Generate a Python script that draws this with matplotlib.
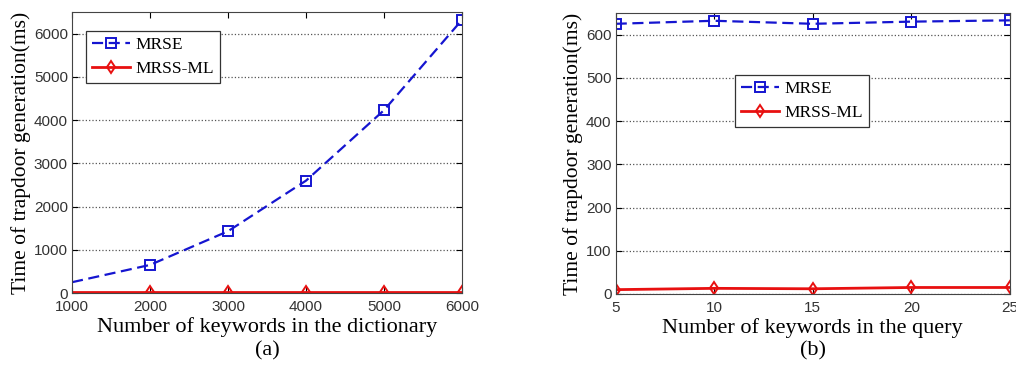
import matplotlib.pyplot as plt

# (a) dictionary size
dict_sizes = [1000, 2000, 3000, 4000, 5000, 6000]
mrse_dict = [250, 650, 1430, 2600, 4230, 6320]
mrssml_dict = [20, 20, 20, 20, 20, 20]

# (b) keywords in the query
query_sizes = [5, 10, 15, 20, 25]
mrse_query = [625, 632, 625, 630, 633]
mrssml_query = [10, 13, 12, 15, 15]

serif = 'Liberation Serif'
sans = 'Liberation Sans'

fig = plt.figure(figsize=(10.16, 3.67), dpi=100)
ax1 = fig.add_axes([0.0709, 0.2016, 0.3838, 0.7654])
ax2 = fig.add_axes([0.606, 0.199, 0.388, 0.7656])

def style(ax):
    ax.grid(axis='y', linestyle=':', color='#555555', linewidth=0.9)
    ax.tick_params(direction='in', top=True, right=True, labelsize=11, length=4, pad=3)
    ax.tick_params(axis='x', pad=5)
    for lab in ax.get_xticklabels() + ax.get_yticklabels():
        lab.set_fontfamily(sans)
        lab.set_color('#333333')
    for s in ax.spines.values():
        s.set_color('#444444')

leg_kw = dict(prop={'family': serif, 'size': 12.5}, fancybox=False, edgecolor='#333333',
              framealpha=1, handlelength=2.2, handletextpad=0.3, borderpad=0.35,
              labelspacing=0.45, borderaxespad=0)

# left plot
ax1.plot(dict_sizes, mrse_dict, '--s', color='#1515d0', lw=1.6, ms=7, mfc='none',
         mew=1.4, dashes=(5, 2.5), markevery=[1, 2, 3, 4, 5], label='MRSE')
ax1.plot(dict_sizes, mrssml_dict, '-d', color='#e81010', lw=2, ms=6, mfc='none',
         mew=1.4, markevery=[1, 2, 3, 4, 5], label='MRSS-ML')
ax1.set_xlim(1000, 6000)
ax1.set_ylim(0, 6500)
ax1.set_xticks(dict_sizes)
ax1.set_yticks([0, 1000, 2000, 3000, 4000, 5000, 6000])
style(ax1)
ax1.set_xlabel('Number of keywords in the dictionary', fontsize=16, family=serif, labelpad=2)
ax1.set_ylabel('Time of trapdoor generation(ms)', fontsize=15.5, family=serif, labelpad=2)
ax1.text(0.5, -0.17, '(a)', transform=ax1.transAxes, ha='center', va='top',
         fontsize=16, family=serif)
leg1 = ax1.legend(loc='upper left', bbox_to_anchor=(0.036, 0.932), **leg_kw)
leg1.get_frame().set_linewidth(0.9)

# right plot
ax2.plot(query_sizes, mrse_query, '--s', color='#1515d0', lw=1.6, ms=7, mfc='none',
         mew=1.4, dashes=(5, 2.5), label='MRSE')
ax2.plot(query_sizes, mrssml_query, '-d', color='#e81010', lw=2, ms=6, mfc='none',
         mew=1.4, label='MRSS-ML')
ax2.set_xlim(5, 25)
ax2.set_ylim(0, 650)
ax2.set_xticks(query_sizes)
ax2.set_yticks([0, 100, 200, 300, 400, 500, 600])
style(ax2)
ax2.set_xlabel('Number of keywords in the query', fontsize=16, family=serif, labelpad=2)
ax2.set_ylabel('Time of trapdoor generation(ms)', fontsize=15.5, family=serif, labelpad=2)
ax2.text(0.5, -0.17, '(b)', transform=ax2.transAxes, ha='center', va='top',
         fontsize=16, family=serif)
leg2 = ax2.legend(loc='upper left', bbox_to_anchor=(0.302, 0.779), **leg_kw)
leg2.get_frame().set_linewidth(0.9)

fig.savefig('out.png', dpi=100)
